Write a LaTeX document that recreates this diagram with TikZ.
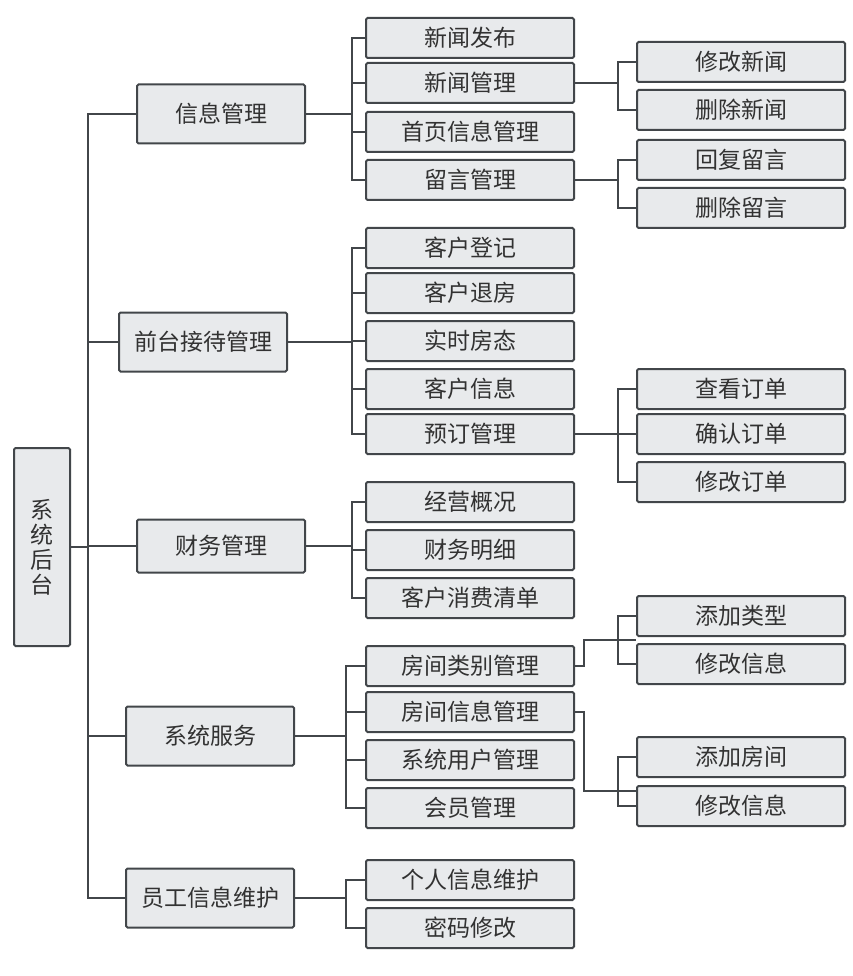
\documentclass[tikz,border=0pt]{standalone}
\usepackage{fontspec}
\newfontfamily\cjk{Noto Sans CJK SC}
\usetikzlibrary{positioning, calc}
\definecolor{boxfill}{RGB}{232,234,236}
\definecolor{boxline}{RGB}{66,70,74}
\definecolor{txtgray}{RGB}{50,50,50}

\begin{document}
\begin{tikzpicture}[
  x=1pt, y=-1pt,
  box/.style={rectangle, rounded corners=1.5pt, draw=boxline, line width=2pt,
              fill=boxfill, text=txtgray, inner sep=0pt,
              font=\cjk\fontsize{23}{25}\selectfont},
  root/.style={box, minimum width=56pt, minimum height=198pt, align=center},
  lvone/.style={box, minimum width=168pt, minimum height=59pt},
  lvtwo/.style={box, minimum width=208pt, minimum height=40pt},
  lvthree/.style={box, minimum width=208pt, minimum height=40pt},
  ln/.style={draw=boxline, line width=1.8pt}
]
  \useasboundingbox (0,0) rectangle (852,976);

  % bus lines
  \coordinate (trunk) at (88,0);
  \coordinate (busA)  at (352,0);
  \coordinate (busB)  at (346,0);
  \coordinate (busC)  at (618,0);
  \coordinate (jog)   at (584,0);

  % root
  \node[root] (root) at (42,547) {系\\统\\后\\台};

  % level one
  \node[lvone] (xxgl) at (221,114) {信息管理};
  \node[lvone] (qtjd) at (203,342) {前台接待管理};
  \node[lvone, minimum height=53pt] (cwgl) at (221,546) {财务管理};
  \node[lvone] (xtfw) at (210,736) {系统服务};
  \node[lvone] (ygwh) at (210,898) {员工信息维护};

  % level two
  \node[lvtwo] (xwfb) at (470,38)  {新闻发布};
  \node[lvtwo] (xwgl) at (470,83)  {新闻管理};
  \node[lvtwo] (sygl) at (470,132) {首页信息管理};
  \node[lvtwo] (lygl) at (470,180) {留言管理};
  \node[lvtwo] (khdj) at (470,248) {客户登记};
  \node[lvtwo] (khtf) at (470,293) {客户退房};
  \node[lvtwo] (ssft) at (470,341) {实时房态};
  \node[lvtwo] (khxx) at (470,389) {客户信息};
  \node[lvtwo] (ydgl) at (470,434) {预订管理};
  \node[lvtwo] (jygk) at (470,502) {经营概况};
  \node[lvtwo] (cwmx) at (470,550) {财务明细};
  \node[lvtwo] (xfqd) at (470,598) {客户消费清单};
  \node[lvtwo] (fjlb) at (470,666) {房间类别管理};
  \node[lvtwo] (fjxx) at (470,712) {房间信息管理};
  \node[lvtwo] (yhgl) at (470,760) {系统用户管理};
  \node[lvtwo] (hygl) at (470,808) {会员管理};
  \node[lvtwo] (grxx) at (470,880) {个人信息维护};
  \node[lvtwo] (mmxg) at (470,928) {密码修改};

  % level three
  \node[lvthree] (xgxw) at (741,62)  {修改新闻};
  \node[lvthree] (scxw) at (741,110) {删除新闻};
  \node[lvthree] (hfly) at (741,160) {回复留言};
  \node[lvthree] (scly) at (741,208) {删除留言};
  \node[lvthree] (ckdd) at (741,389) {查看订单};
  \node[lvthree] (qrdd) at (741,434) {确认订单};
  \node[lvthree] (xgdd) at (741,482) {修改订单};
  \node[lvthree] (tjlx) at (741,616) {添加类型};
  \node[lvthree] (xglx) at (741,664) {修改信息};
  \node[lvthree] (tjfj) at (741,757) {添加房间};
  \node[lvthree] (xgfj) at (741,806) {修改信息};

  % root to level one
  \draw[ln] (root.east) -- (root.east -| trunk);
  \draw[ln] (xxgl.west) -- (xxgl.west -| trunk) |- (ygwh.west);
  \foreach \n in {qtjd, cwgl, xtfw}
    \draw[ln] (\n.west) -- (\n.west -| trunk);

  % brackets: parent / first child / last child / bus
  \foreach \p/\first/\last/\bus in {xxgl/xwfb/lygl/busA, qtjd/khdj/ydgl/busA,
      cwgl/jygk/xfqd/busA, xtfw/fjlb/hygl/busB, ygwh/grxx/mmxg/busB,
      xwgl/xgxw/scxw/busC, lygl/hfly/scly/busC, ydgl/ckdd/xgdd/busC}{
    \draw[ln] (\p.east) -- (\p.east -| \bus);
    \draw[ln] (\first.west) -- (\first.west -| \bus) |- (\last.west);
  }
  % middle children
  \foreach \c/\bus in {xwgl/busA, sygl/busA, khtf/busA, ssft/busA, khxx/busA,
      cwmx/busA, fjxx/busB, yhgl/busB, qrdd/busC}
    \draw[ln] (\c.west) -- (\c.west -| \bus);

  % room sub-branches with a jog
  \draw[ln] (tjlx.west) -- (tjlx.west -| busC) |- (xglx.west);
  \draw[ln] (tjfj.west) -- (tjfj.west -| busC) |- (xgfj.west);
  \draw[ln] (fjlb.east) -- (fjlb.east -| jog)
            |- ($(tjlx.west)!0.5!(xglx.west)$ -| busC);
  \draw[ln] (fjxx.east) -- (fjxx.east -| jog)
            |- ($(tjfj.west)!0.7!(xgfj.west)$ -| busC);
\end{tikzpicture}
\end{document}
